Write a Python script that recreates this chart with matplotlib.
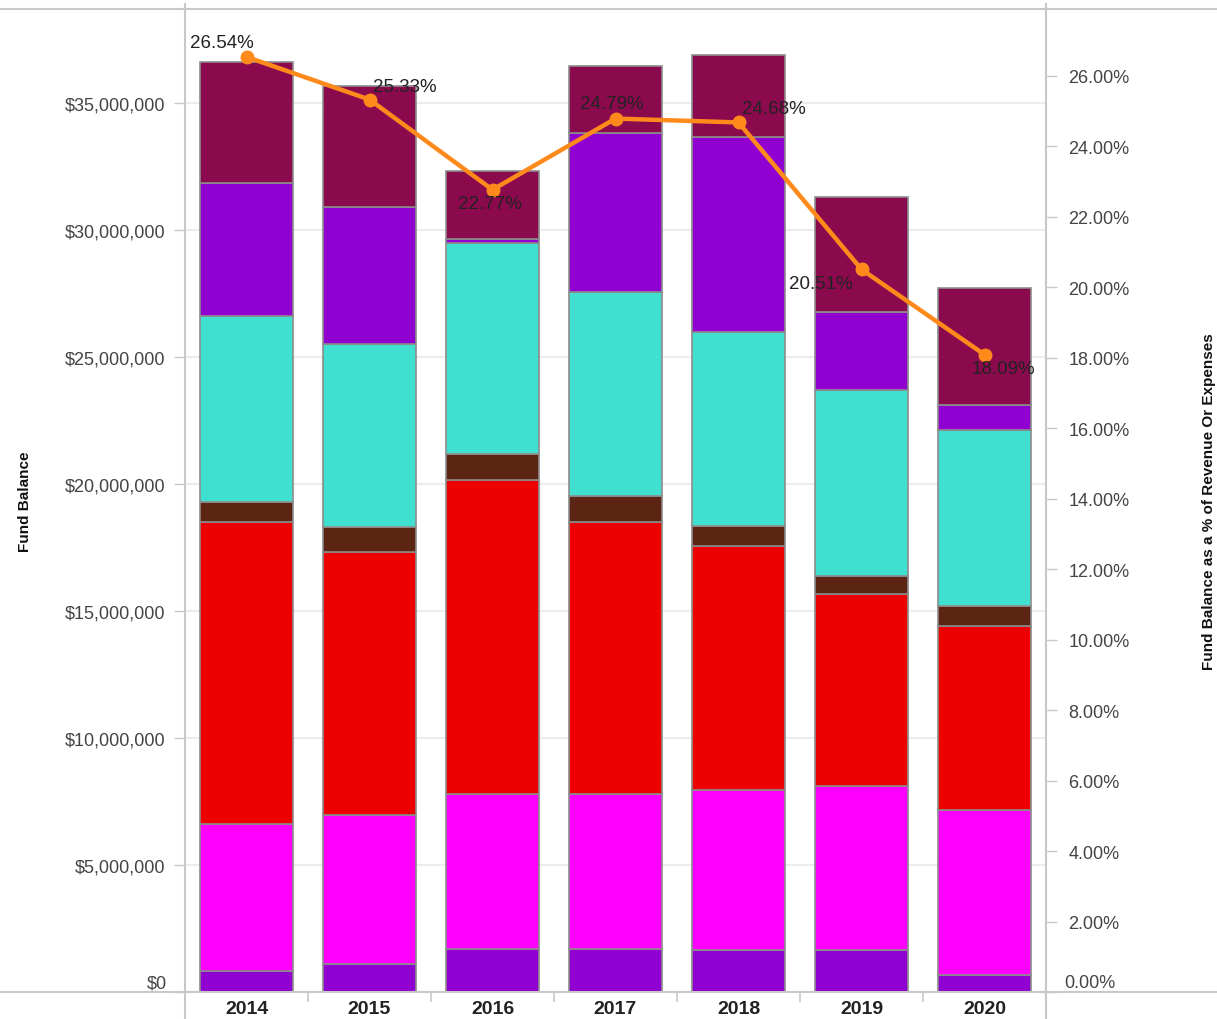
import numpy as np
import matplotlib.pyplot as plt
from matplotlib.lines import Line2D
from matplotlib.ticker import FuncFormatter, MultipleLocator

plt.rcParams['font.family'] = ['Liberation Sans', 'DejaVu Sans']

years = ['2014', '2015', '2016', '2017', '2018', '2019', '2020']

# fund balance pieces per year, stacked bottom to top (dollars)
violet_low = [0.83e6, 1.10e6, 1.69e6, 1.69e6, 1.65e6, 1.65e6, 0.67e6]
magenta = [5.78e6, 5.87e6, 6.11e6, 6.11e6, 6.30e6, 6.46e6, 6.50e6]
red = [11.89e6, 10.35e6, 12.36e6, 10.70e6, 9.61e6, 7.56e6, 7.24e6]
brown = [0.79e6, 0.99e6, 1.02e6, 1.03e6, 0.79e6, 0.71e6, 0.79e6]
turquoise = [7.32e6, 7.20e6, 8.31e6, 8.03e6, 7.63e6, 7.32e6, 6.93e6]
violet_high = [5.24e6, 5.40e6, 0.16e6, 6.26e6, 7.68e6, 3.07e6, 0.98e6]
maroon = [4.76e6, 4.76e6, 2.67e6, 2.64e6, 3.23e6, 4.53e6, 4.61e6]

# fund balance as % of revenue or expenses
pct_balance = [26.54, 25.33, 22.77, 24.79, 24.68, 20.51, 18.09]

layers = [violet_low, magenta, red, brown, turquoise, violet_high, maroon]
colors = ['#9000d0', '#ff00ff', '#ee0000', '#5c2412', '#40e0d0', '#9000d0', '#8b0a4e']

fig = plt.figure(figsize=(12.17, 10.20), dpi=100)
W, H = 1217, 1020
ax = fig.add_axes([185 / W, 1 - 993 / H, (1046 - 185) / W, (993 - 10) / H])

x = np.arange(len(years))
bottom = np.zeros(len(years))
for vals, col in zip(layers, colors):
    ax.bar(x, vals, bottom=bottom, width=0.75, color=col,
           edgecolor='#8c8c8c', linewidth=1.2, zorder=2)
    bottom += np.array(vals)

ax.set_xlim(-0.5, len(years) - 0.5)
ax.set_ylim(0, 38.7e6)
ax.yaxis.set_major_locator(MultipleLocator(5e6))
# zero labels are drawn separately, lifted off the baseline
ax.yaxis.set_major_formatter(FuncFormatter(lambda v, p: f'${v:,.0f}' if v > 0 else ''))
ax.grid(axis='y', color='#ececec', linewidth=1.5)
ax.set_axisbelow(True)

ax.set_xticks(x)
ax.set_xticklabels(years, fontsize=14, fontweight='bold', color='#222222')
ax.set_xticks(x[:-1] + 0.5, minor=True)
ax.tick_params(axis='x', which='major', length=0, pad=6)
ax.tick_params(axis='x', which='minor', length=7, width=1.2, color='#c8c8c8')
ax.tick_params(axis='y', length=8, width=1.0, color='#c8c8c8',
               labelsize=13, labelcolor='#444444', pad=6)
for s in ax.spines.values():
    s.set_visible(False)

ax.set_ylabel('Fund Balance', fontsize=11, fontweight='bold', color='#111111')
ax.yaxis.set_label_coords(-0.178, 0.5)

# percentage line on the secondary axis
ax2 = ax.twinx()
ax2.set_ylim(0, 27.9)
ax2.plot(x, pct_balance, color='#ff8a1c', linewidth=3.2, marker='o',
         markersize=9, zorder=5)
ax2.yaxis.set_major_locator(MultipleLocator(2))
ax2.yaxis.set_major_formatter(FuncFormatter(lambda v, p: f'{v:.2f}%' if v > 0 else ''))
ax2.tick_params(axis='y', length=8, width=1.0, color='#c8c8c8',
                labelsize=13, labelcolor='#444444', pad=8)
for s in ax2.spines.values():
    s.set_visible(False)
ax2.set_ylabel('Fund Balance as a % of Revenue Or Expenses', fontsize=11,
               fontweight='bold', color='#111111')
ax2.yaxis.set_label_coords(1.181, 0.5)

ax.annotate('$0', (0, 0), xycoords=('axes fraction', 'data'), xytext=(-18, 9),
            textcoords='offset pixels', ha='right', va='center',
            fontsize=13, color='#444444')
ax2.annotate(f'{0:.2f}%', (1, 0), xycoords=('axes fraction', 'data'), xytext=(18, 9),
             textcoords='offset pixels', ha='left', va='center',
             fontsize=13, color='#444444')

label_offsets = [(-25, 14), (35, 13), (-3, -14), (-4, 15), (35, 14), (-41, -14), (19, -14)]
for xi, v, off in zip(x, pct_balance, label_offsets):
    ax2.annotate(f'{v:.2f}%', (xi, v), xytext=off, textcoords='offset pixels',
                 ha='center', va='center', fontsize=13.5, color='#222222', zorder=6)

# frame lines running past the plot area
line_kw = dict(transform=fig.transFigure, color='#c8c8c8', linewidth=1.5)
fig.add_artist(Line2D([0, 1], [1 - 10 / H, 1 - 10 / H], **line_kw))
fig.add_artist(Line2D([0, 1], [1 - 993 / H, 1 - 993 / H], **line_kw))
fig.add_artist(Line2D([185 / W, 185 / W], [0, 1 - 5 / H], **line_kw))
fig.add_artist(Line2D([1046 / W, 1046 / W], [0, 1 - 5 / H], **line_kw))

fig.savefig('out.png', dpi=100, facecolor='white')
